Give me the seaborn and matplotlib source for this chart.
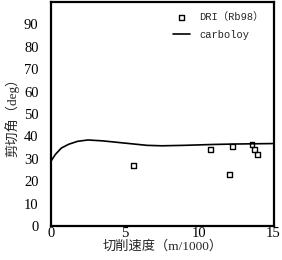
import numpy as np
import pandas as pd
import matplotlib
matplotlib.use('Agg')
import matplotlib.pyplot as plt
import seaborn as sns

# 实验数据 DRI (Rb98)
dri_speed = [5.6, 10.8, 12.1, 12.3, 13.6, 13.8, 14.0]
dri_angle = [27.0, 34.2, 22.8, 35.5, 36.3, 34.2, 32.0]

# carboloy 曲线
carb_speed = [0, 0.3, 0.7, 1.2, 1.8, 2.5, 3.5, 5.0, 6.5, 7.5, 9.0, 11.0, 12.5, 15.0]
carb_angle = [29.0, 32.0, 34.8, 36.5, 37.8, 38.4, 38.0, 37.0, 36.0, 35.8, 36.0, 36.4, 36.6, 36.8]

xticks = [0, 5, 10, 15]
yticks = [0, 10, 20, 30, 40, 50, 60, 70, 80, 90]

sns.set_style('white')
plt.rcParams['font.family'] = ['Liberation Serif', 'Noto Sans CJK SC', 'DejaVu Sans']

fig = plt.figure(figsize=(2.82, 2.60), dpi=100)
ax = fig.add_axes([0.181, 0.131, 0.791, 0.861])

dri = pd.DataFrame({'speed': dri_speed, 'angle': dri_angle})
carb = pd.DataFrame({'speed': carb_speed, 'angle': carb_angle})

sns.scatterplot(data=dri, x='speed', y='angle', marker='s', s=12,
                facecolor='none', edgecolor='black', linewidth=1.0,
                label='DRI（Rb98）', ax=ax)
sns.lineplot(data=carb, x='speed', y='angle', color='black', linewidth=1.2,
             label='carboloy', ax=ax)

ax.set_xlim(0, 15.1)
ax.set_ylim(0, 100)
ax.set_xticks(xticks)
ax.set_yticks(yticks)
ax.tick_params(direction='in', length=4, width=1.2, labelsize=10.5, colors='black')
ax.tick_params(axis='y', pad=9)
ax.tick_params(axis='x', pad=1)
for sp in ax.spines.values():
    sp.set_linewidth(1.6)
    sp.set_color('black')

ax.set_xlabel('切削速度（m/1000）', fontsize=9.5, labelpad=0)
ax.set_ylabel('剪切角（deg）', fontsize=9.5, labelpad=3)

leg = ax.legend(loc='upper right', frameon=False, handlelength=1.6,
                borderaxespad=0.6, labelspacing=0.7, handletextpad=0.9,
                prop={'family': ['Liberation Mono', 'Noto Sans CJK SC'], 'size': 7.5})

plt.savefig('out.png', dpi=100)
plt.close()
